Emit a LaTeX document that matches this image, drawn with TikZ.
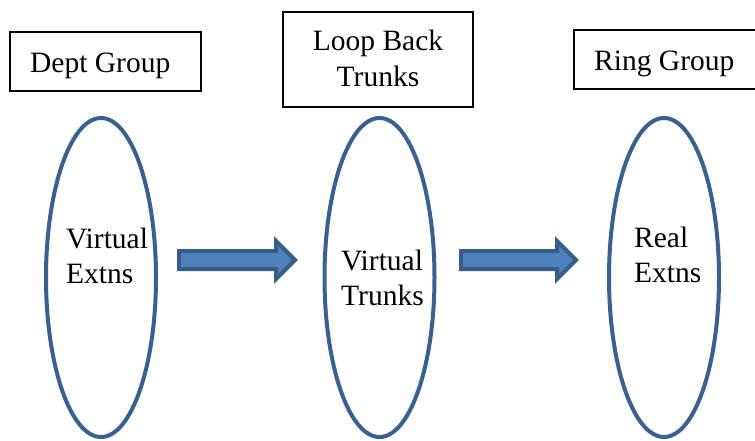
\documentclass[tikz,border=0pt]{standalone}
\usepackage{fontspec}
\setmainfont{Liberation Serif}
\definecolor{ellcol}{HTML}{3A6090}
\definecolor{arrfill}{HTML}{4F81BD}
\definecolor{arrline}{HTML}{385D8A}
\tikzset{
  lbl/.style={font=\fontsize{29.5}{35}\selectfont, inner sep=0pt, align=left, anchor=base west},
  titlebox/.style={draw=black, line width=1.3pt, fill=white},
  oval/.style={draw=ellcol, line width=4pt, ellipse, minimum width=110pt, minimum height=319pt, inner sep=0pt},
  blockarrow/.style={fill=arrfill, draw=arrline, line width=4pt, line join=miter}
}
\usetikzlibrary{shapes.geometric}
\begin{document}
\begin{tikzpicture}[x=1pt,y=-1pt]
\useasboundingbox (0,0) rectangle (755,440);
% title boxes
\draw[titlebox] (10,32) rectangle (201,91);
\node[lbl] (t1) at (30,72) {Dept Group};
\draw[titlebox] (283,12) rectangle (473,107);
\node[lbl, align=center, anchor=base, font=\fontsize{29.5}{36}\selectfont] (t2) at (378,86) {Loop Back\\Trunks};
\draw[titlebox] (574,30) rectangle (762,89);
\node[lbl] (t3) at (594,70) {Ring Group};
% ellipses
\node[oval] (e1) at (101,277.5) {};
\node[oval] (e2) at (379.5,277.5) {};
\node[oval] (e3) at (664,277.5) {};
% labels (base = last line's baseline)
\node[lbl] (l1) at (66,283) {Virtual\\Extns};
\node[lbl] (l2) at (341,305) {Virtual\\Trunks};
\node[lbl] (l3) at (634,282) {Real\\Extns};
% block arrows
\coordinate (a1) at (179,260);
\coordinate (a2) at (461,260);
\draw[blockarrow] (a1) ++(0,-9) -- ++(97,0) -- ++(0,-10) -- ++(19,19) -- ++(-19,19) -- ++(0,-10) -- ++(-97,0) -- cycle;
\draw[blockarrow] (a2) ++(0,-9) -- ++(96,0) -- ++(0,-10) -- ++(19,19) -- ++(-19,19) -- ++(0,-10) -- ++(-96,0) -- cycle;
\end{tikzpicture}
\end{document}
